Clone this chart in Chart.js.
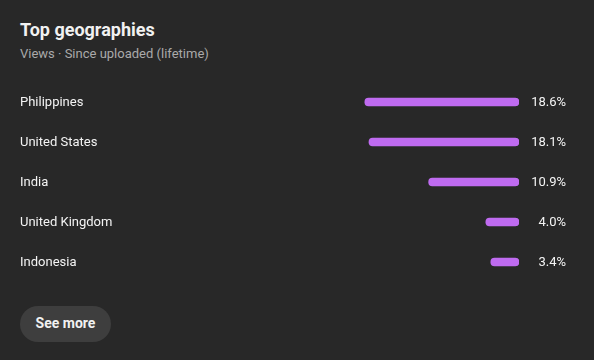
<!DOCTYPE html>
<html lang="en">
<head>
    <meta charset="UTF-8">
    <title>Top geographies</title>
    <script src="https://cdn.jsdelivr.net/npm/chart.js"></script>
    <style>
        body {
            margin: 0;
            width: 594px;
            height: 360px;
            background-color: #282828;
            font-family: Roboto, 'Noto Sans', sans-serif;
            color: #f1f1f1;
            position: relative;
            overflow: hidden;
        }
        .title {
            position: absolute;
            left: 20px;
            top: 18px;
            font-size: 18px;
            font-weight: 700;
            line-height: 24px;
        }
        .subtitle {
            position: absolute;
            left: 20px;
            top: 45px;
            font-size: 13px;
            line-height: 18px;
            color: #aaaaaa;
        }
        .chart-box {
            position: absolute;
            left: 0;
            top: 81.5px;
            width: 594px;
            height: 200px;
        }
        .see-more {
            position: absolute;
            left: 20px;
            top: 306px;
            width: 91px;
            height: 36px;
            border-radius: 18px;
            background-color: #3e3e3e;
            font-size: 14px;
            font-weight: 700;
            line-height: 35px;
            text-align: center;
        }
    </style>
</head>
<body>
    <div class="title">Top geographies</div>
    <div class="subtitle">Views · Since uploaded (lifetime)</div>
    <div class="chart-box"><canvas id="geoChart"></canvas></div>
    <div class="see-more">See more</div>
    <script>
        const countries = ['Philippines', 'United States', 'India', 'United Kingdom', 'Indonesia'];
        const viewShare = [18.6, 18.1, 10.9, 4.0, 3.4];
        const shareLabels = ['18.6%', '18.1%', '10.9%', '4.0%', '3.4%'];

        // country names on the left edge, percentages on the right edge
        const rowText = {
            id: 'rowText',
            afterDatasetsDraw(chart) {
                const ctx = chart.ctx;
                const y = chart.scales.y;
                ctx.save();
                ctx.font = '13px Roboto, sans-serif';
                ctx.fillStyle = '#f4f4f4';
                ctx.textBaseline = 'middle';
                countries.forEach((name, i) => {
                    const cy = y.getPixelForValue(i) + 1;
                    ctx.textAlign = 'left';
                    ctx.fillText(name, 20, cy);
                    ctx.textAlign = 'right';
                    ctx.fillText(shareLabels[i], 566, cy);
                });
                ctx.restore();
            }
        };

        new Chart(document.getElementById('geoChart'), {
            type: 'bar',
            data: {
                labels: countries,
                datasets: [{
                    data: viewShare,
                    backgroundColor: '#bf6bf0',
                    borderRadius: 4,
                    borderSkipped: false,
                    barThickness: 8
                }]
            },
            options: {
                indexAxis: 'y',
                responsive: true,
                maintainAspectRatio: false,
                animation: false,
                layout: { padding: { left: 20, right: 75, top: 0, bottom: 0 } },
                scales: {
                    x: { reverse: true, min: 0, max: 60.2, display: false },
                    y: { display: false }
                },
                plugins: {
                    legend: { display: false },
                    tooltip: { enabled: false }
                }
            },
            plugins: [rowText]
        });
    </script>
</body>
</html>
